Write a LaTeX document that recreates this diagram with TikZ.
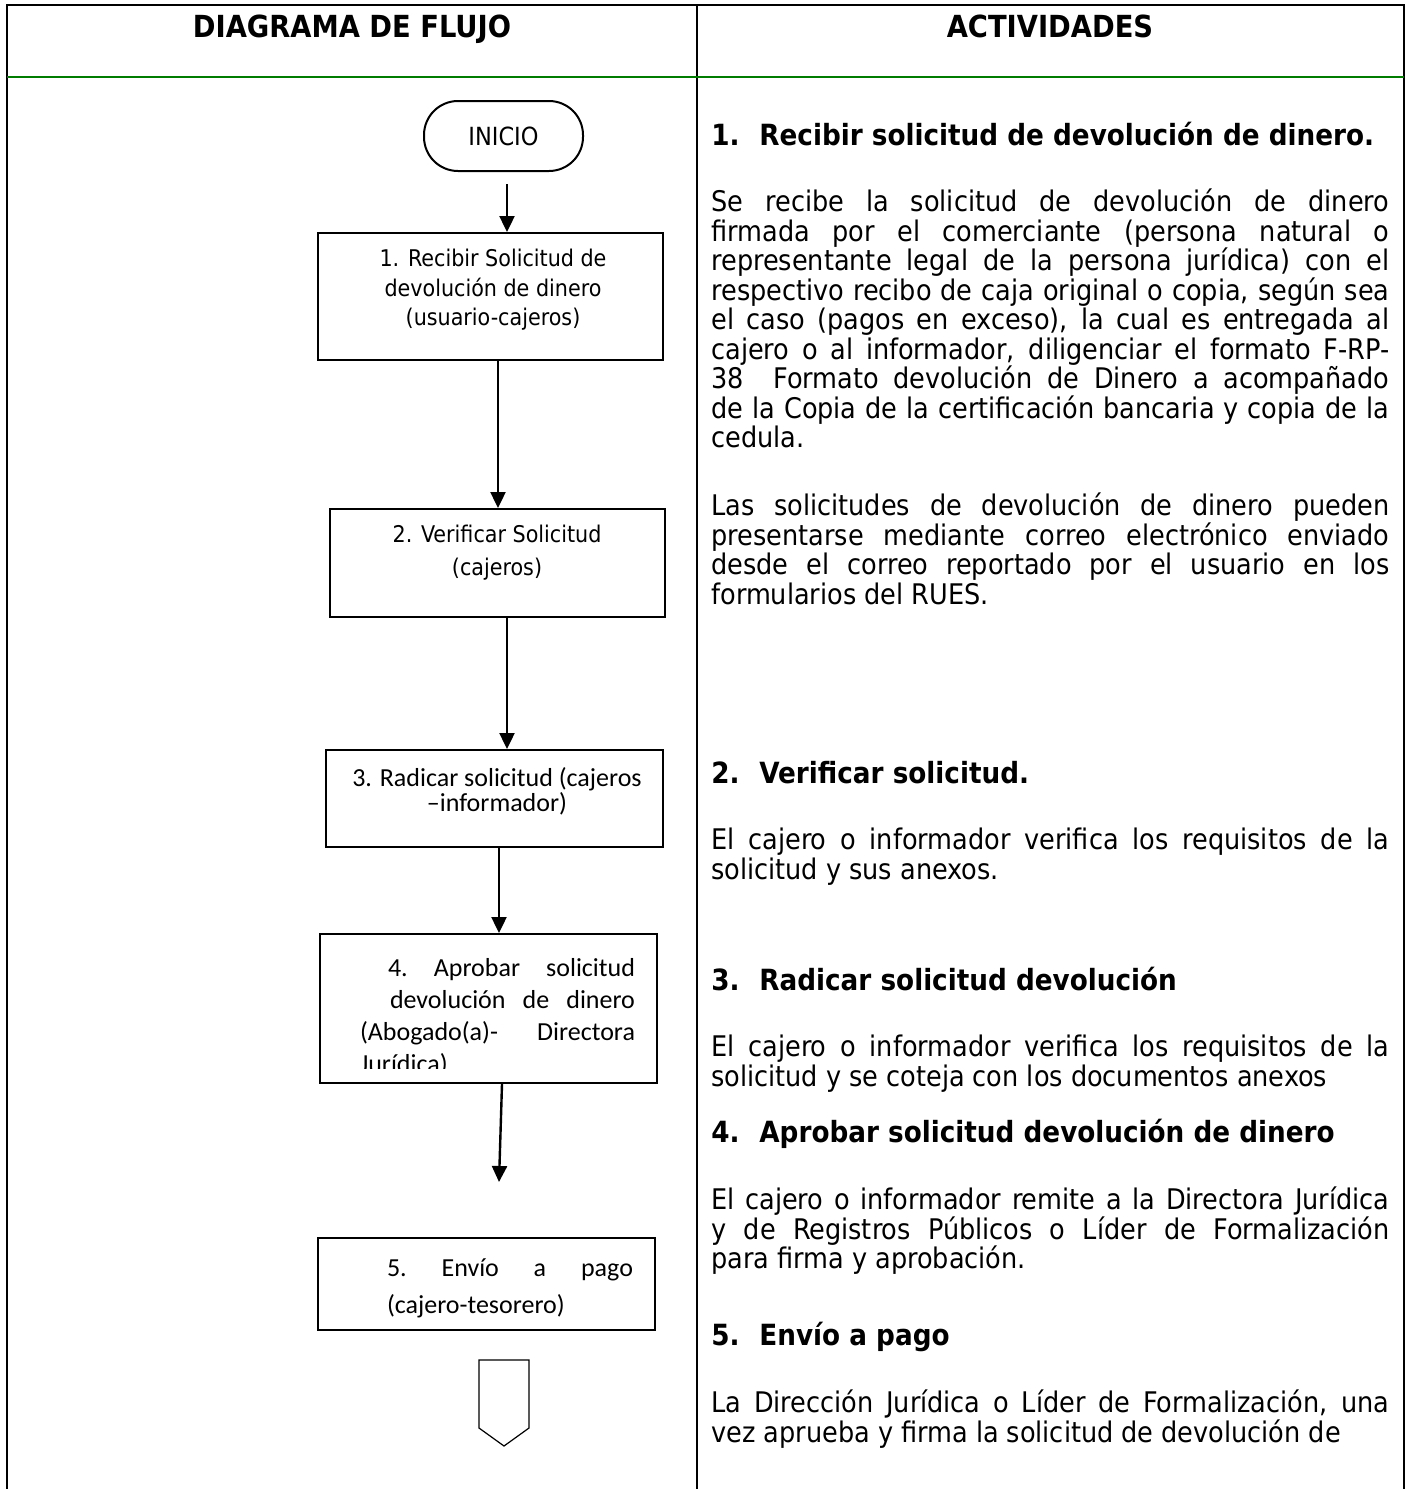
\documentclass[tikz,border=0pt]{standalone}
\usepackage{fontspec}
\setmainfont{DejaVu Sans Condensed}[BoldFont={DejaVu Sans Condensed Bold}]
\newfontfamily\calibri{Carlito}
\usetikzlibrary{arrows.meta, positioning, calc}
\definecolor{docgreen}{RGB}{0, 125, 0}

\begin{document}
\begin{tikzpicture}[x=0.5pt, y=-0.5pt,
    caja/.style={draw, line width=1pt, inner sep=0pt},
    flecha/.style={line width=1.2pt, -{Triangle[width=7.5pt, length=8pt]}},
    txtcaja/.style={inner sep=0pt, align=center},
    encabezado/.style={anchor=base, inner sep=0pt, font=\bfseries\fontsize{15.2}{16}\selectfont},
    titulo/.style={anchor=base west, inner sep=0pt, font=\bfseries\fontsize{14.6}{14.75}\selectfont},
    cuerpo/.style={anchor=base west, inner sep=0pt, text width=339pt, align=justify,
                   font=\fontsize{14.2}{14.75}\selectfont}]
    \useasboundingbox (0,0) rectangle (1411,1489);

    % table frame
    \draw[line width=1.2pt] (7,1489) -- (7,5) -- (1404,5) -- (1404,1489);
    \draw[line width=1.2pt] (697,5) -- (697,1489);
    \draw[docgreen, line width=1.2pt] (7,77) -- (1404,77);
    \node[encabezado] (hdiagrama) at (352,37) {DIAGRAMA DE FLUJO};
    \node[encabezado] (hactividades) at (1050,37) {ACTIVIDADES};

    % flow chart - boxes
    \node[caja, rounded corners=17pt, minimum width=79.5pt, minimum height=35pt,
          font=\fontsize{12.5}{14}\selectfont] (inicio) at (503.5,136) {INICIO};
    \node[caja, minimum width=172.5pt, minimum height=63.5pt] (recibir) at (490.5,296.5) {};
    \node[txtcaja, font=\fontsize{11.5}{14.75}\selectfont] (recibirtxt) at (493,290)
        {1. Recibir Solicitud de\\devolución de dinero\\(usuario-cajeros)};
    \node[caja, minimum width=167.5pt, minimum height=54pt] (verificar) at (497.5,563) {};
    \node[txtcaja, font=\fontsize{11.5}{16.5}\selectfont] (verificartxt) at (497,553)
        {2. Verificar Solicitud\\(cajeros)};
    \node[caja, minimum width=168.5pt, minimum height=48.5pt] (radicar) at (494.5,798.5) {};
    \node[txtcaja, font=\calibri\fontsize{13}{12.5}\selectfont] (radicartxt) at (497,791.5)
        {3. Radicar solicitud (cajeros\\–informador)};
    \node[caja, minimum width=168.5pt, minimum height=74.5pt] (aprobar) at (488.5,1008.5) {};
    \begin{scope}
        \clip (320,935) rectangle (657,1068);
        \node[inner sep=0pt, align=left, font=\calibri\fontsize{13}{16}\selectfont] (aprobartxt) at (497.5,1017)
            {\makebox[137.5pt][r]{\makebox[123.5pt][s]{4.\hfill Aprobar\hfill solicitud}}\\
             \makebox[137.5pt][r]{\makebox[122.5pt][s]{devolución\hfill de\hfill dinero}}\\
             \makebox[137.5pt][s]{(Abogado(a)-\hfill Directora}\\
             Jurídica)};
    \end{scope}
    \node[caja, minimum width=168.5pt, minimum height=46pt] (envio) at (486.5,1284) {};
    \node[inner sep=0pt, align=left, font=\calibri\fontsize{13}{18.5}\selectfont] (enviotxt) at (510,1288)
        {\makebox[123pt][s]{5.\hfill Envío\hfill a\hfill pago}\\(cajero-tesorero)};

    % flow chart - arrows
    \coordinate (fin5) at (499,1182);
    \draw[flecha] ([xshift=1.75pt, yshift=-6pt]inicio.south) -- ([xshift=1.75pt]inicio.south |- recibir.north);
    \draw[flecha] ([xshift=3.75pt]recibir.south) -- ([xshift=3.75pt]recibir.south |- verificar.north);
    \draw[flecha] ([xshift=4.75pt]verificar.south) -- ([xshift=4.75pt]verificar.south |- radicar.north);
    \draw[flecha] ([xshift=2.25pt]radicar.south) -- ([xshift=2.25pt]radicar.south |- aprobar.north);
    \draw[flecha] ([xshift=6.75pt]aprobar.south) -- (fin5);

    % off-page connector
    \draw[line width=0.6pt] (479,1360) -- (529,1360) -- (529,1428) -- (504,1446) -- (479,1428) -- cycle;

    % activities
    \node[titulo] (tit1) at (711,145.5) {\makebox[24pt][l]{1.}Recibir solicitud de devolución de dinero.};
    \node[cuerpo] (par1) at (711,211.5)
        {Se recibe la solicitud de devolución de dinero\linebreak
         firmada por el comerciante (persona natural o\linebreak
         representante legal de la persona jurídica) con el\linebreak
         respectivo recibo de caja original o copia, según sea\linebreak
         el caso (pagos en exceso), la cual es entregada al\linebreak
         cajero o al informador, diligenciar el formato F-RP-\linebreak
         38\ \ Formato devolución de Dinero a acompañado\linebreak
         de la Copia de la certificación bancaria y copia de la\linebreak
         cedula.};
    \node[cuerpo] (par1b) at (711,515.5)
        {Las solicitudes de devolución de dinero pueden\linebreak
         presentarse mediante correo electrónico enviado\linebreak
         desde el correo reportado por el usuario en los\linebreak
         formularios del RUES.};

    \node[titulo] (tit2) at (711,783.5) {\makebox[24pt][l]{2.}Verificar solicitud.};
    \node[cuerpo] (par2) at (711,849.5)
        {El cajero o informador verifica los requisitos de la\linebreak
         solicitud y sus anexos.};

    \node[titulo] (tit3) at (711,990.5) {\makebox[24pt][l]{3.}Radicar solicitud devolución};
    \node[cuerpo] (par3) at (711,1056.5)
        {El cajero o informador verifica los requisitos de la\linebreak
         solicitud y se coteja con los documentos anexos};

    \node[titulo] (tit4) at (711,1142.5) {\makebox[24pt][l]{4.}Aprobar solicitud devolución de dinero};
    \node[cuerpo] (par4) at (711,1209.5)
        {El cajero o informador remite a la Directora Jurídica\linebreak
         y de Registros Públicos o Líder de Formalización\linebreak
         para firma y aprobación.};

    \node[titulo] (tit5) at (711,1345.5) {\makebox[24pt][l]{5.}Envío a pago};
    \node[cuerpo] (par5) at (711,1412.5)
        {\parfillskip=0pt\relax La Dirección Jurídica o Líder de Formalización, una\linebreak
         vez aprueba y firma la solicitud de devolución de};
\end{tikzpicture}
\end{document}
